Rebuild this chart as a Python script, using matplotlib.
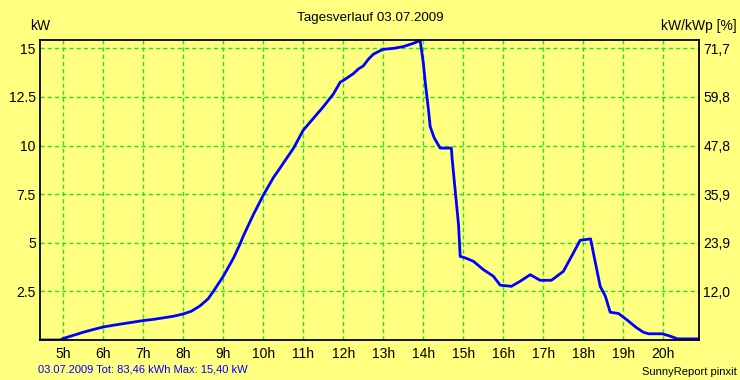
import matplotlib
matplotlib.use("Agg")
import matplotlib.pyplot as plt

plt.rcParams['font.family'] = ['Liberation Sans', 'DejaVu Sans']

hours = [4.42, 4.92, 5.0, 5.25, 5.5, 5.75, 6.0, 6.25, 6.5, 6.75, 7.0, 7.25, 7.5, 7.75,
         8.0, 8.2, 8.42, 8.62, 8.75, 9.0, 9.25, 9.42, 9.5, 9.75, 10.0, 10.25, 10.42,
         10.5, 10.75, 11.0, 11.25, 11.5, 11.75, 11.92, 12.0, 12.25, 12.375, 12.5,
         12.625, 12.75, 12.92, 13.0, 13.25, 13.5, 13.75, 13.92, 14.0, 14.05, 14.13,
         14.17, 14.27, 14.42, 14.7, 14.72, 14.8, 14.88, 14.92, 15.05, 15.25, 15.5,
         15.75, 15.92, 16.2, 16.42, 16.67, 16.92, 17.2, 17.5, 17.75, 17.92, 18.18,
         18.25, 18.42, 18.55, 18.67, 18.88, 19.08, 19.33, 19.5, 19.63, 19.97, 20.17,
         20.35, 20.89]
kw = [0.0, 0.0, 0.08, 0.24, 0.4, 0.54, 0.67, 0.76, 0.84, 0.92, 1.0, 1.06, 1.14, 1.22,
      1.34, 1.48, 1.76, 2.12, 2.5, 3.28, 4.2, 4.95, 5.35, 6.45, 7.45, 8.35, 8.85,
      9.1, 9.85, 10.8, 11.4, 12.0, 12.65, 13.26, 13.35, 13.7, 13.94, 14.1,
      14.44, 14.7, 14.88, 14.95, 15.0, 15.09, 15.26, 15.4, 14.24, 13.2, 11.8,
      10.98, 10.4, 9.87, 9.87, 9.3, 7.6, 5.9, 4.3, 4.22, 4.05, 3.62,
      3.28, 2.82, 2.76, 3.02, 3.36, 3.07, 3.07, 3.53, 4.48, 5.13, 5.2,
      4.48, 2.76, 2.25, 1.43, 1.36, 1.05, 0.63, 0.4, 0.32, 0.32, 0.2,
      0.06, 0.06]

hour_ticks = list(range(5, 21))
hour_labels = [f"{h}h" for h in hour_ticks]
kw_ticks = [2.5, 5, 7.5, 10, 12.5, 15]
kw_labels = ["2.5", "5", "7.5", "10", "12.5", "15"]
pct_labels = ["12,0", "23,9", "35,9", "47,8", "59,8", "71,7"]

title = "Tagesverlauf 03.07.2009"
footer = "03.07.2009 Tot: 83,46 kWh Max: 15,40 kW"
credit = "SunnyReport pinxit"

bg = '#FFFF80'
grid_c = '#1EE61E'

fig = plt.figure(figsize=(7.4, 3.8), dpi=100, facecolor=bg)
W, H = 740, 380
L, R, T, B = 40, 699, 40, 340
ax = fig.add_axes([L / W, (H - B) / H, (R - L) / W, (B - T) / H])
ax.set_facecolor(bg)
ax.plot(hours, kw, color='#0000FF', lw=2.0, solid_joinstyle='round', zorder=3)
ax.set_xlim(4.417, 20.89)
ax.set_ylim(0, 15.43)
ax.set_xticks(hour_ticks)
ax.set_xticklabels(hour_labels)
ax.set_yticks(kw_ticks)
ax.set_yticklabels(kw_labels)
ax.grid(True, color=grid_c, linestyle=(0, (3, 2.2)), lw=1.0, zorder=1)
ax.tick_params(axis='both', length=0, labelsize=10, colors='black')
ax.tick_params(axis='x', pad=5)
ax.tick_params(axis='y', pad=3)
for s in ax.spines.values():
    s.set_color('black')
    s.set_linewidth(1.3)
    s.set_zorder(4)

ax2 = ax.twinx()
ax2.set_ylim(ax.get_ylim())
ax2.set_yticks(kw_ticks)
ax2.set_yticklabels(pct_labels)
ax2.tick_params(axis='y', length=0, labelsize=10, pad=3)
for s in ax2.spines.values():
    s.set_visible(False)

fig.text(370 / W, 1 - 18 / H, title, ha='center', va='center', fontsize=9.6)
fig.text(40 / W, 1 - 26 / H, "kW", ha='center', va='center', fontsize=10)
fig.text(737 / W, 1 - 26 / H, "kW/kWp [%]", ha='right', va='center', fontsize=10)
fig.text(38 / W, 1 - 369 / H, footer, ha='left', va='center', fontsize=8, color='#0000FF')
fig.text(737 / W, 1 - 372 / H, credit, ha='right', va='center', fontsize=8, color='black')

fig.savefig("out.png", dpi=100, facecolor=bg)
